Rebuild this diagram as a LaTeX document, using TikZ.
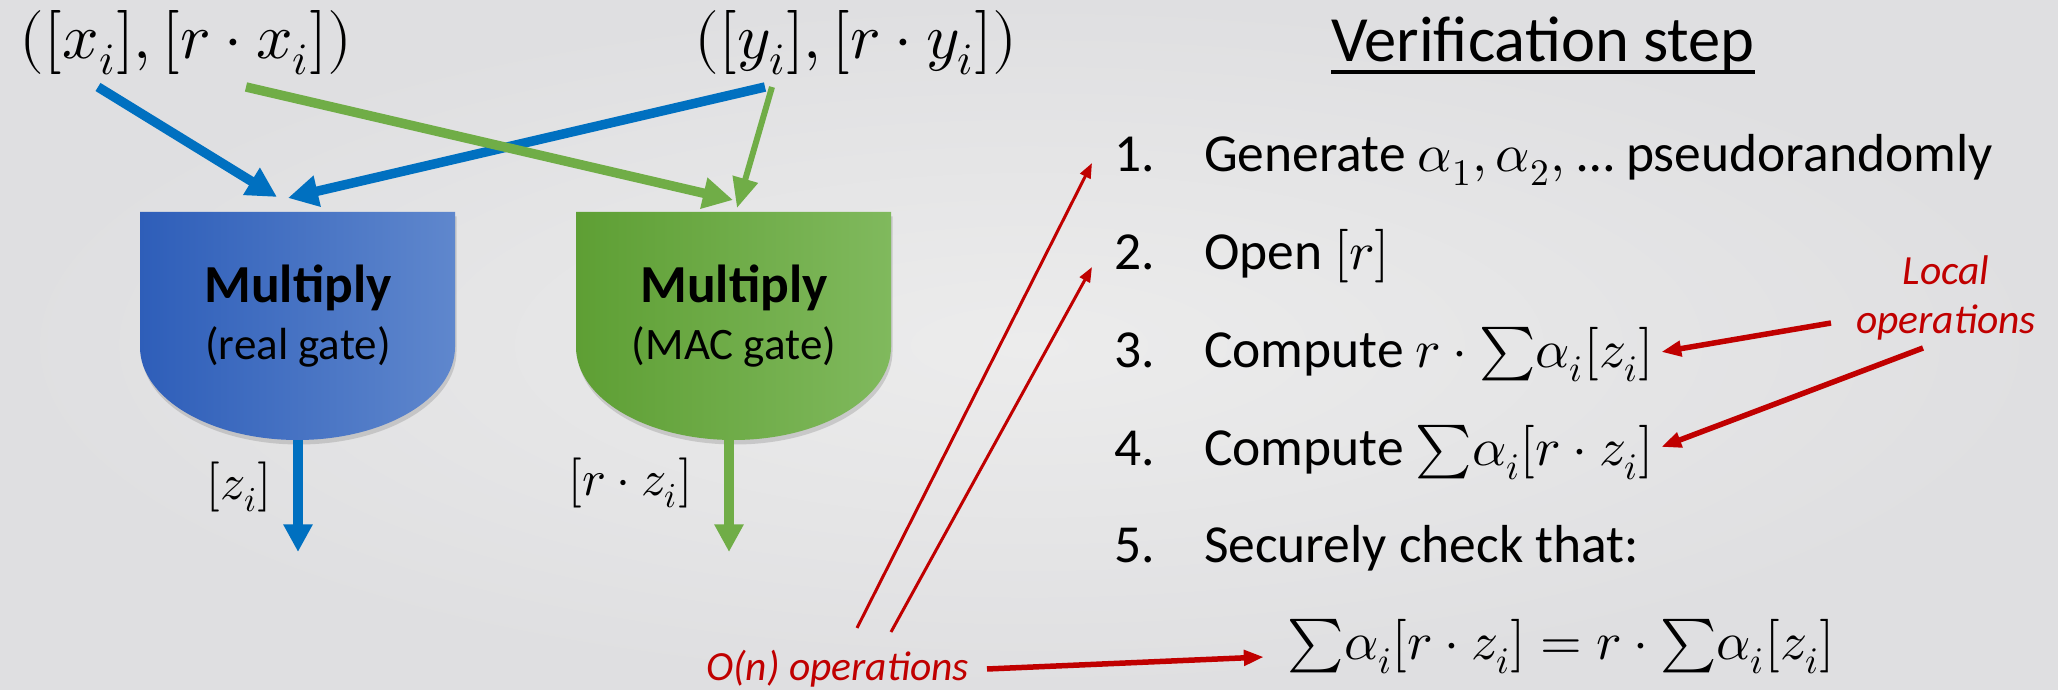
\documentclass[tikz,border=0pt]{standalone}
\usepackage{fontspec}
\usepackage{unicode-math}
\setmainfont{Carlito}
\setmathfont{Latin Modern Math}
\usetikzlibrary{arrows.meta,calc,shadows}

\definecolor{cblue}{HTML}{0070C0}
\definecolor{cgreen}{HTML}{70AD47}
\definecolor{cred}{HTML}{C00000}
\definecolor{gblueL}{HTML}{2E5EB9}
\definecolor{gblueR}{HTML}{5F87CD}
\definecolor{ggreenL}{HTML}{5E9F34}
\definecolor{ggreenR}{HTML}{80B95D}
\definecolor{bgin}{HTML}{ECECEC}
\definecolor{bgout}{HTML}{DFDFE1}

% sum sign set tight against the following term
\newcommand\tsum{\mathord{\sum}}

\tikzset{
  wire/.style={line width=3.8pt},
  bluewire/.style={wire, draw=cblue, -{Triangle[length=12pt,width=12pt]}},
  greenwire/.style={wire, draw=cgreen, -{Triangle[length=12pt,width=12pt]}},
  thingreen/.style={line width=2.4pt, draw=cgreen, -{Triangle[length=12pt,width=10pt]}},
  redthin/.style={line width=1.2pt, draw=cred, -{Triangle[length=6pt,width=4.5pt]}},
  redthick/.style={line width=2.2pt, draw=cred, -{Triangle[length=8pt,width=6pt]}},
  gateshadow/.style={drop shadow={opacity=0.3, shadow xshift=0.6pt, shadow yshift=-1.8pt}},
  txt/.style={inner sep=0pt, outer sep=0pt},
  bigmath/.style={txt, font=\fontsize{25.6pt}{30pt}\selectfont},
  labmath/.style={txt, font=\fontsize{20pt}{24pt}\selectfont},
  gatehead/.style={txt, anchor=base, font=\fontsize{21.4pt}{25pt}\selectfont\bfseries},
  gatesub/.style={txt, anchor=base, font=\fontsize{18pt}{22pt}\selectfont},
  itemtxt/.style={txt, anchor=base west, font=\fontsize{21.4pt}{25pt}\selectfont},
  redtxt/.style={txt, text=cred, font=\fontsize{16.6pt}{19.6pt}\selectfont\itshape},
}

\begin{document}
\begin{tikzpicture}[x=0.4pt,y=-0.4pt]
\path[use as bounding box] (0,0) rectangle (2058,690);
\shade[inner color=bgin, outer color=bgout] (0,0) rectangle (2058,690);

% gates
\shade[gateshadow, left color=gblueL, right color=gblueR]
  (140,212) -- (455,212) -- (455,347)
  .. controls (455,398.4) and (384.5,440) .. (297.5,440)
  .. controls (210.5,440) and (140,398.4) .. (140,347) -- cycle;
\shade[gateshadow, left color=ggreenL, right color=ggreenR]
  (576,212) -- (891,212) -- (891,347)
  .. controls (891,398.4) and (820.5,440) .. (733.5,440)
  .. controls (646.5,440) and (576,398.4) .. (576,347) -- cycle;

\node[gatehead] (gA) at (298,303) {Multiply};
\node[gatesub] (gAs) at (298,360) {(real gate)};
\node[gatehead] (gB) at (734,303) {Multiply};
\node[gatesub] (gBs) at (734,360) {(MAC gate)};

\coordinate (gAin1) at (277,197);
\coordinate (gAin2) at (288,198);
\coordinate (gBin1) at (733,200);
\coordinate (gBin2) at (737,208);
\coordinate (gAout) at (298,440);
\coordinate (gBout) at (729,440);
\coordinate (zA) at (298,552);
\coordinate (zB) at (729,552);

% inputs
\node[bigmath] (xin) at (186,43) {$([x_i],[r\cdot x_i])$};
\node[bigmath] (yin) at (856,43) {$([y_i],[r\cdot y_i])$};

\coordinate (xa) at (98,87);
\coordinate (xb) at (246,87);
\coordinate (ya) at (765,87);
\coordinate (yb) at (772,87);

\draw[bluewire] (xa) -- (gAin1);
\draw[bluewire] (ya) -- (gAin2);
\draw[greenwire] (xb) -- (gBin1);
\draw[thingreen] (yb) -- (gBin2);

% outputs
\draw[wire, draw=cblue, -{Triangle[length=11pt,width=11pt]}] (gAout) -- (zA);
\draw[wire, draw=cgreen, -{Triangle[length=11pt,width=11pt]}] (gBout) -- (zB);
\node[labmath] (zlab) at (239,487) {$[z_i]$};
\node[labmath] (rzlab) at (630,483) {$[r\cdot z_i]$};

% verification step
\node[txt, anchor=base, font=\fontsize{25.8pt}{30pt}\selectfont] (title) at (1543,62) {Verification step};
\draw[line width=1.5pt] ($(title.base west)+(0,10)$) -- ($(title.base east)+(0,10)$);

\node[itemtxt] (n1) at (1114,172) {1.};
\node[itemtxt] (s1) at (1204,172) {Generate $\alpha_1,\alpha_2,$ … pseudorandomly};
\node[itemtxt] (n2) at (1114,270) {2.};
\node[itemtxt] (s2) at (1204,270) {Open $[r]$};
\node[itemtxt] (n3) at (1114,368) {3.};
\node[itemtxt] (s3) at (1204,368) {Compute $r\cdot\tsum\alpha_i[z_i]$};
\node[itemtxt] (n4) at (1114,466) {4.};
\node[itemtxt] (s4) at (1204,466) {Compute $\tsum\alpha_i[r\cdot z_i]$};
\node[itemtxt] (n5) at (1114,563) {5.};
\node[itemtxt] (s5) at (1204,563) {Securely check that:};
\node[txt, anchor=base, font=\fontsize{21.4pt}{25pt}\selectfont] (eq) at (1561,660)
  {$\tsum\alpha_i[r\cdot z_i] = r\cdot\tsum\alpha_i[z_i]$};

% annotations
\node[redtxt, align=center] (loc) at (1946,298) {Local\\operations};
\node[redtxt, anchor=base west] (on) at (706,681) {O(n) operations};

\coordinate (on1) at (857,628);
\coordinate (on2) at (891,632);
\coordinate (on3) at (987,669);
\coordinate (lo1) at (1831,323);
\coordinate (lo2) at (1923,348);

\draw[redthin] (on1) -- ($(n1.west |- 0,163)+(-22,0)$);
\draw[redthin] (on2) -- ($(n2.west |- 0,267)+(-22,0)$);
\draw[redthick] (on3) -- ($(eq.west |- 0,657)+(-24,0)$);
\draw[redthick] (lo1) -- ($(s3.east |- 0,352)+(8,0)$);
\draw[redthick] (lo2) -- ($(s4.east |- 0,447)+(8,0)$);
\end{tikzpicture}
\end{document}
